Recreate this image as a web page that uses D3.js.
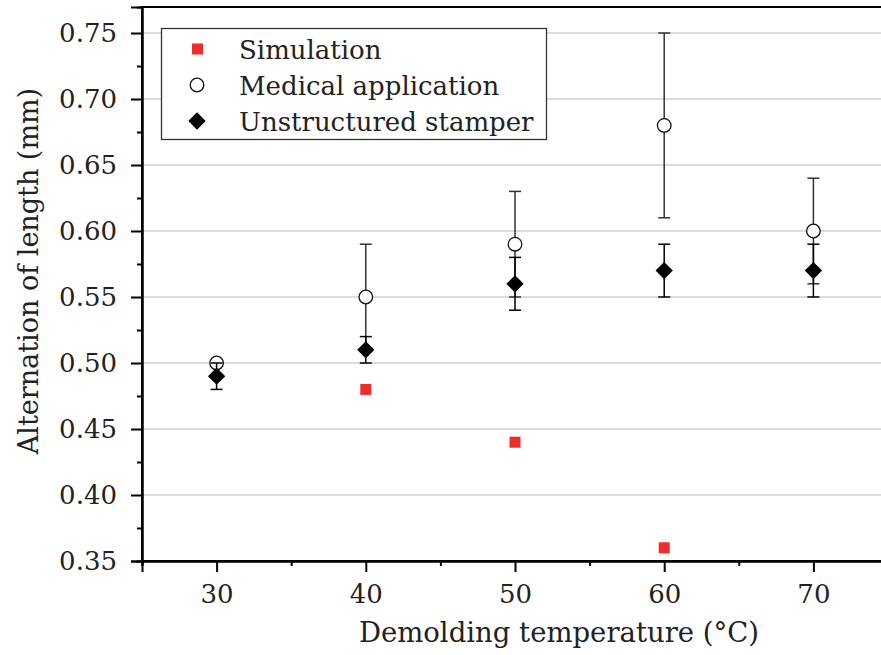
<!DOCTYPE html>
<html>
<head>
<meta charset="utf-8">
<script src="https://cdn.jsdelivr.net/npm/d3@7"></script>
<style>
  body { margin: 0; background: #fff; }
  svg text { font-family: "DejaVu Serif", "Liberation Serif", "Noto Serif", "Times New Roman", Times, serif; fill: #222; }
</style>
</head>
<body>
<div id="chart"></div>
<script>
// data
const temps = [30, 40, 50, 60, 70];
const simTemps = [40, 50, 60];
const simValues = [0.48, 0.44, 0.36];
const medValues = [0.50, 0.55, 0.59, 0.68, 0.60];
const medErrors = [0.00, 0.04, 0.04, 0.07, 0.04];
const unsValues = [0.49, 0.51, 0.56, 0.57, 0.57];
const unsErrors = [0.01, 0.01, 0.02, 0.02, 0.02];
const xTicks = [30, 40, 50, 60, 70];
const yTicks = [0.35, 0.40, 0.45, 0.50, 0.55, 0.60, 0.65, 0.70, 0.75];
const seriesNames = ["Simulation", "Medical application", "Unstructured stamper"];

const width = 881;
const height = 655;
const serif = '"DejaVu Serif", "Liberation Serif", "Noto Serif", "Times New Roman", Times, serif';

const svg = d3.select("#chart")
  .append("svg")
  .attr("width", width)
  .attr("height", height);

// scales
const x = d3.scaleLinear().domain([25, 75]).range([142, 888]);
const y = d3.scaleLinear().domain([0.35, 0.7697]).range([561, 7]);

// gridlines
svg.append("g")
  .selectAll("line")
  .data(yTicks)
  .join("line")
  .attr("x1", x(25)).attr("x2", x(75))
  .attr("y1", d => y(d)).attr("y2", d => y(d))
  .attr("stroke", "#cfcfcf")
  .attr("stroke-width", 1.3);

// frame (top and right)
svg.append("rect")
  .attr("x", x(25)).attr("y", y(0.7697))
  .attr("width", x(75) - x(25)).attr("height", y(0.35) - y(0.7697))
  .attr("fill", "none")
  .attr("stroke", "#000")
  .attr("stroke-width", 2);

// axes
const xAxis = svg.append("g")
  .attr("transform", `translate(0,${y(0.35)})`)
  .call(d3.axisBottom(x).tickValues(xTicks).tickSize(11).tickPadding(13).tickFormat(d3.format("d")));
const xMinor = svg.append("g")
  .attr("transform", `translate(0,${y(0.35)})`)
  .call(d3.axisBottom(x).tickValues([25, 35, 45, 55, 65, 75]).tickSize(5).tickFormat(""));

const yAxis = svg.append("g")
  .attr("transform", `translate(${x(25)},0)`)
  .call(d3.axisLeft(y).tickValues(yTicks).tickSize(11).tickPadding(14).tickFormat(d3.format(".2f")));
const yMinor = svg.append("g")
  .attr("transform", `translate(${x(25)},0)`)
  .call(d3.axisLeft(y).tickValues([0.375, 0.425, 0.475, 0.525, 0.575, 0.625, 0.675, 0.725]).tickSize(5).tickFormat(""));

[xAxis, xMinor, yAxis, yMinor].forEach(g => {
  g.attr("font-family", serif);
  g.select(".domain").attr("stroke", "#000").attr("stroke-width", 2);
  g.selectAll(".tick line").attr("stroke", "#000").attr("stroke-width", 2);
  g.selectAll(".tick text").attr("font-size", 26).attr("fill", "#222");
});

// error bars
function errorBars(values, errors, color, cls) {
  const rows = temps.map((t, i) => ({ t: t, v: values[i], e: errors[i] })).filter(d => d.e > 0);
  const g = svg.append("g").attr("class", cls);
  g.selectAll("line.stem")
    .data(rows)
    .join("line")
    .attr("class", "stem")
    .attr("x1", d => x(d.t)).attr("x2", d => x(d.t))
    .attr("y1", d => y(d.v - d.e)).attr("y2", d => y(d.v + d.e))
    .attr("stroke", color).attr("stroke-width", 1.5);
  g.selectAll("line.capHi")
    .data(rows)
    .join("line")
    .attr("class", "capHi")
    .attr("x1", d => x(d.t) - 6).attr("x2", d => x(d.t) + 6)
    .attr("y1", d => y(d.v + d.e)).attr("y2", d => y(d.v + d.e))
    .attr("stroke", color).attr("stroke-width", 1.5);
  g.selectAll("line.capLo")
    .data(rows)
    .join("line")
    .attr("class", "capLo")
    .attr("x1", d => x(d.t) - 6).attr("x2", d => x(d.t) + 6)
    .attr("y1", d => y(d.v - d.e)).attr("y2", d => y(d.v - d.e))
    .attr("stroke", color).attr("stroke-width", 1.5);
}

errorBars(medValues, medErrors, "#333", "med-err");

// medical application circles
svg.append("g")
  .selectAll("circle")
  .data(medValues)
  .join("circle")
  .attr("cx", (d, i) => x(temps[i]))
  .attr("cy", d => y(d))
  .attr("r", 6.8)
  .attr("fill", "#fff")
  .attr("stroke", "#111")
  .attr("stroke-width", 1.3);

errorBars(unsValues, unsErrors, "#000", "uns-err");

// unstructured stamper diamonds
const diamond = d3.symbol().type(d3.symbolSquare).size(150);
svg.append("g")
  .selectAll("path")
  .data(unsValues)
  .join("path")
  .attr("d", diamond)
  .attr("transform", (d, i) => `translate(${x(temps[i])},${y(d)}) rotate(45)`)
  .attr("fill", "#000");

// simulation squares
svg.append("g")
  .selectAll("rect")
  .data(simValues)
  .join("rect")
  .attr("x", (d, i) => x(simTemps[i]) - 5.5)
  .attr("y", d => y(d) - 5.5)
  .attr("width", 11)
  .attr("height", 11)
  .attr("fill", "#ee2d2a");

// legend
const legend = svg.append("g");
legend.append("rect")
  .attr("x", 161.5).attr("y", 28.5)
  .attr("width", 385).attr("height", 111)
  .attr("fill", "#fff")
  .attr("stroke", "#333")
  .attr("stroke-width", 1.3);

const rowY = [49, 85, 121];
legend.append("rect")
  .attr("x", 192).attr("y", rowY[0] - 5.5)
  .attr("width", 11).attr("height", 11)
  .attr("fill", "#ee2d2a");
legend.append("circle")
  .attr("cx", 197).attr("cy", rowY[1]).attr("r", 6.8)
  .attr("fill", "#fff").attr("stroke", "#111").attr("stroke-width", 1.3);
legend.append("path")
  .attr("d", diamond)
  .attr("transform", `translate(197,${rowY[2]}) rotate(45)`)
  .attr("fill", "#000");

legend.selectAll("text")
  .data(seriesNames)
  .join("text")
  .attr("x", 239)
  .attr("y", (d, i) => rowY[i] + 10)
  .attr("font-size", 26)
  .text(d => d);

// axis titles
svg.append("text")
  .attr("x", 559)
  .attr("y", 642)
  .attr("text-anchor", "middle")
  .attr("font-size", 27.5)
  .text("Demolding temperature (°C)");

svg.append("text")
  .attr("transform", "translate(38,271) rotate(-90)")
  .attr("text-anchor", "middle")
  .attr("font-size", 27)
  .text("Alternation of length (mm)");
</script>
</body>
</html>
